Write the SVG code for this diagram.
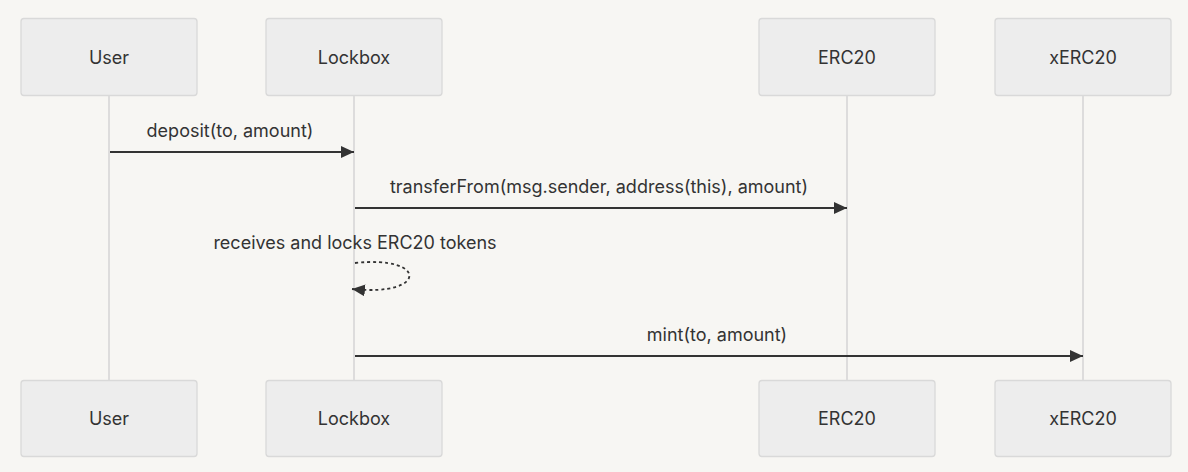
<svg xmlns="http://www.w3.org/2000/svg" width="1188" height="472" viewBox="0 0 1188 472">
<defs>
<style>
.actor{fill:#ededed;stroke:#d9d9d9;stroke-width:1.3}
.lbl{font-family:Inter,"Liberation Sans",sans-serif;font-size:18px;fill:#333;text-anchor:middle}
.life{stroke:#d6d6d6;stroke-width:1.6}
.msg{stroke:#333;stroke-width:1.8;fill:none}
.dash{stroke:#333;stroke-width:1.8;fill:none;stroke-dasharray:3,3}
</style>
<marker id="arr" viewBox="0 0 13 12" refX="13" refY="6" markerWidth="13" markerHeight="12" markerUnits="userSpaceOnUse" orient="auto">
<path d="M0,0 L13,6 L0,12 Z" fill="#333"/>
</marker>
</defs>
<rect width="1188" height="472" fill="#f7f6f3"/>
<g id="lifelines">
<line class="life" x1="109" y1="95" x2="109" y2="380"/>
<line class="life" x1="354" y1="95" x2="354" y2="380"/>
<line class="life" x1="847" y1="95" x2="847" y2="380"/>
<line class="life" x1="1083" y1="95" x2="1083" y2="380"/>
</g>
<g id="User">
<rect class="actor" x="21" y="18.5" width="176" height="77" rx="3"/>
<text class="lbl" x="109" y="64">User</text>
</g>
<g id="Lockbox">
<rect class="actor" x="266" y="18.5" width="176" height="77" rx="3"/>
<text class="lbl" x="354" y="64">Lockbox</text>
</g>
<g id="ERC20">
<rect class="actor" x="759" y="18.5" width="176" height="77" rx="3"/>
<text class="lbl" x="847" y="64">ERC20</text>
</g>
<g id="xERC20">
<rect class="actor" x="995" y="18.5" width="176" height="77" rx="3"/>
<text class="lbl" x="1083" y="64">xERC20</text>
</g>
<g id="User-bottom">
<rect class="actor" x="21" y="380.5" width="176" height="76" rx="3"/>
<text class="lbl" x="109" y="425">User</text>
</g>
<g id="Lockbox-bottom">
<rect class="actor" x="266" y="380.5" width="176" height="76" rx="3"/>
<text class="lbl" x="354" y="425">Lockbox</text>
</g>
<g id="ERC20-bottom">
<rect class="actor" x="759" y="380.5" width="176" height="76" rx="3"/>
<text class="lbl" x="847" y="425">ERC20</text>
</g>
<g id="xERC20-bottom">
<rect class="actor" x="995" y="380.5" width="176" height="76" rx="3"/>
<text class="lbl" x="1083" y="425">xERC20</text>
</g>
<g id="connectors">
<line class="msg" x1="110" y1="152" x2="354" y2="152" marker-end="url(#arr)"/>
<text class="lbl" x="230" y="137">deposit(to, amount)</text>
<line class="msg" x1="355" y1="208" x2="847" y2="208" marker-end="url(#arr)"/>
<text class="lbl" x="599" y="193">transferFrom(msg.sender, address(this), amount)</text>
<path class="dash" d="M355,263 C428,255 428,297 352,289" marker-end="url(#arr)"/>
<text class="lbl" x="355" y="249">receives and locks ERC20 tokens</text>
<line class="msg" x1="355" y1="356" x2="1083" y2="356" marker-end="url(#arr)"/>
<text class="lbl" x="717" y="341">mint(to, amount)</text>
</g>
</svg>
